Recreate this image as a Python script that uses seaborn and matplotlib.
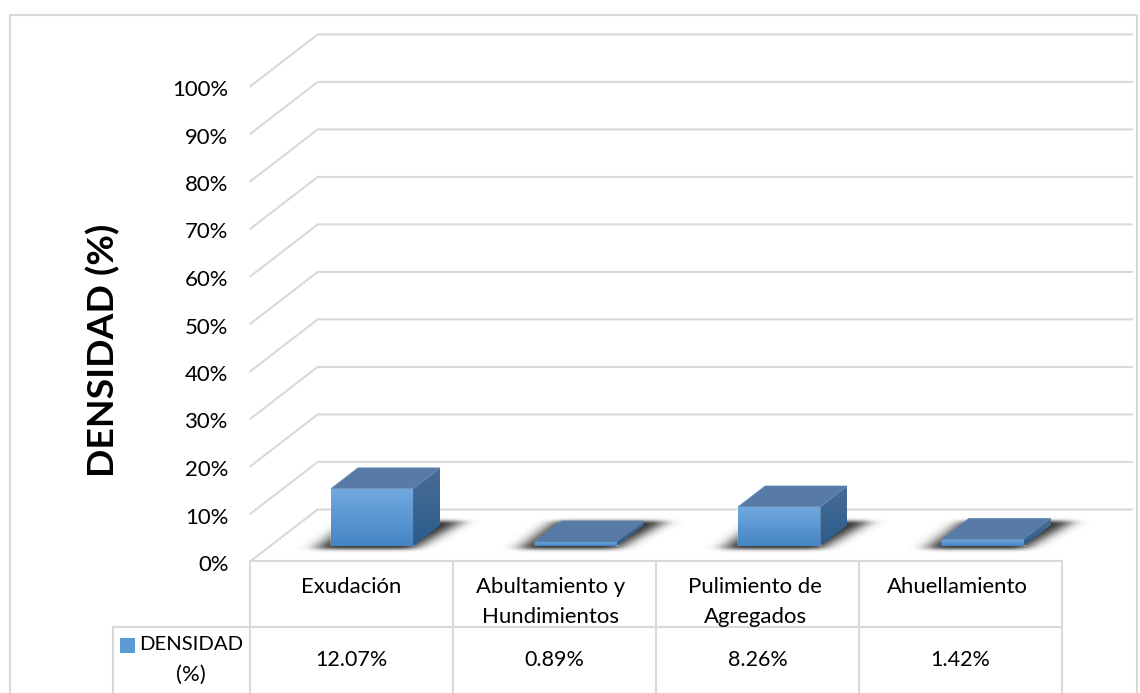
import numpy as np
import pandas as pd
import matplotlib
matplotlib.use("Agg")
import matplotlib.pyplot as plt
from matplotlib.patches import Polygon, Rectangle
from matplotlib.transforms import ScaledTranslation
import seaborn as sns

categories = ["Exudación", "Abultamiento y\nHundimientos", "Pulimiento de\nAgregados", "Ahuellamiento"]
densidad = [12.07, 0.89, 8.26, 1.42]
y_ticks = list(range(0, 101, 10))
series_name = "DENSIDAD (%)"

W, H = 1140, 693
GRID = "#d9d9d9"
TEXT = "#000000"
LABEL_PT = 15.9

sns.set_theme(style="white")
plt.rcParams["font.family"] = ["Lato", "DejaVu Sans"]

fig = plt.figure(figsize=(W / 100, H / 100), dpi=100, facecolor="white")

# Pixel-space layer for the chart frame, the data table and the floor shadows
chrome = fig.add_axes([0, 0, 1, 1], zorder=0)
chrome.set_xlim(0, W)
chrome.set_ylim(H, 0)
chrome.axis("off")

# The bars live on a plane set back from the front of the oblique floor
CAT_PX = 203.6
VAL_PX = 4.75
LEFT_PX = 270.2
BASE_PX = 546.0
ax = fig.add_axes([LEFT_PX / W, 1 - BASE_PX / H, 4 * CAT_PX / W, 100 * VAL_PX / H], zorder=1)
ax.patch.set_alpha(0)

data = pd.DataFrame({"categoria": categories, "densidad": densidad})
sns.barplot(data=data, x="categoria", y="densidad", width=0.403, color="#5b9bd5", saturation=1, ax=ax)
ax.set_xlim(-0.5, 3.5)
ax.set_ylim(0, 100)
ax.set_xlabel("")
ax.set_ylabel("")
sns.despine(ax=ax, left=True, bottom=True)


def depth(x, y, d):
    """Shift a data point by d pixels along the oblique depth direction."""
    return x + d / CAT_PX, y + d * 0.77 / VAL_PX


FRONT, BACK = -20.0, 47.5
x_lo, x_hi = ax.get_xlim()

# Walls: each gridline runs along the side wall and then across the back wall
for v in y_ticks:
    pts = [depth(x_lo, v, FRONT), depth(x_lo, v, BACK), depth(x_hi, v, BACK)]
    ax.plot(*zip(*pts), color=GRID, lw=1.5, clip_on=False, zorder=0.5, solid_joinstyle="miter")


def gradient_fill(top_rgb, bottom_rgb, outline, z):
    """Fill a polygon with a vertical colour gradient."""
    poly = Polygon(outline, closed=True, fc="none", ec="none", clip_on=False, zorder=z)
    ax.add_patch(poly)
    xs, ys = zip(*outline)
    ramp = np.linspace(0, 1, 64)[:, None, None]
    rgb = np.array(matplotlib.colors.to_rgb(top_rgb)) * (1 - ramp) + np.array(matplotlib.colors.to_rgb(bottom_rgb)) * ramp
    im = ax.imshow(rgb, extent=(min(xs), max(xs), min(ys), max(ys)), aspect="auto", origin="upper",
                   zorder=z, clip_on=True, interpolation="bilinear")
    im.set_clip_path(poly)


BAR_DEPTH = 27.0
for bar in ax.patches[:len(densidad)]:
    x0, x1 = bar.get_x(), bar.get_x() + bar.get_width()
    v = bar.get_height()
    gradient_fill("#72aae0", "#4585c3", [(x0, 0), (x1, 0), (x1, v), (x0, v)], 3)
    gradient_fill("#4a6d94", "#2a5c8e",
                  [(x1, 0), depth(x1, 0, BAR_DEPTH), depth(x1, v, BAR_DEPTH), (x1, v)], 3)
    ax.add_patch(Polygon([(x0, v), (x1, v), depth(x1, v, BAR_DEPTH), depth(x0, v, BAR_DEPTH)],
                         closed=True, fc="#577ba6", ec="#6288b4", lw=0.5, clip_on=False, zorder=3))
ax.set_xlim(x_lo, x_hi)
ax.set_ylim(0, 100)

# Value axis labels sit on the front edge of the side wall
ax.set_yticks(y_ticks)
ax.set_yticklabels([f"{v}%" for v in y_ticks], fontsize=LABEL_PT, color=TEXT)
ax.tick_params(axis="y", length=0, pad=30)
shift_front = ScaledTranslation(0, -17 / 100, fig.dpi_scale_trans)
for lab in ax.get_yticklabels():
    lab.set_transform(lab.get_transform() + shift_front)

# Category labels occupy the header row of the data table
ax.tick_params(axis="x", length=0, pad=22)
cat_shift_px = [-20.5, -25.5, -24.0, -25.5]
for lab, dx in zip(ax.get_xticklabels(), cat_shift_px):
    lab.set_fontsize(LABEL_PT)
    lab.set_color(TEXT)
    lab.set_multialignment("center")
    lab.set_linespacing(1.65)
    lab.set_transform(lab.get_transform() + ScaledTranslation(dx / 100, 0, fig.dpi_scale_trans))

chrome.text(103, 350, series_name, rotation=90, ha="center", va="center",
            fontsize=26.9, fontweight="bold", color="#000000")


def smooth(a, sigma, axis):
    """Gaussian smoothing along one array axis."""
    r = int(3 * sigma)
    k = np.exp(-0.5 * (np.arange(-r, r + 1) / sigma) ** 2)
    k /= k.sum()
    return np.apply_along_axis(lambda m: np.convolve(m, k, mode="same"), axis, a)


# Soft shadows on the floor, following each bar's footprint
gx, gy = np.meshgrid(np.arange(240, W), np.arange(505, 560))
alpha = np.zeros(gx.shape, dtype=float)
for i, v in enumerate(densidad):
    centre = LEFT_PX + (i + 0.5) * CAT_PX
    L, R = centre - 41, centre + 41
    t = (548.5 - gy) / 27.5
    inside = (t >= 0) & (t <= 1) & (gx >= L - 16 + 36 * t) & (gx <= R + 48 * t)
    alpha = np.maximum(alpha, inside.astype(float))
alpha = smooth(smooth(alpha, 9.0, 1), 1.8, 0)
shadow = np.zeros(gx.shape + (4,))
shadow[..., :3] = 0.18
shadow[..., 3] = np.clip(alpha, 0, 1)
chrome.imshow(shadow, extent=(240, W, 560, 505), aspect="auto", zorder=1, interpolation="bilinear")
chrome.set_xlim(0, W)
chrome.set_ylim(H, 0)

# Outer chart frame, cut off by the lower edge of the image
chrome.plot([9.5, 9.5, 1136.5, 1136.5], [H, 14.5, 14.5, H], color=GRID, lw=1.5, zorder=0.5)

# Data table grid
col_x = [250 + 203 * k for k in range(5)]
for x in col_x:
    chrome.plot([x, x], [561, H], color=GRID, lw=1.5, zorder=0.5)
chrome.plot([113, 113], [627, H], color=GRID, lw=1.5, zorder=0.5)
chrome.plot([113, col_x[-1]], [627, 627], color=GRID, lw=1.5, zorder=0.5)
chrome.plot([col_x[0], col_x[-1]], [561, 561], color=GRID, lw=1.5, zorder=0.5)

for k, v in enumerate(densidad):
    chrome.text((col_x[k] + col_x[k + 1]) / 2, 660, f"{v:.2f}%", ha="center", va="center",
                fontsize=15.5, color=TEXT)

# Legend key and series name in the first column of the table
chrome.add_patch(Rectangle((120, 638), 15, 15, fc="#5b9bd5", ec="none", zorder=2))
chrome.text(191, 645, "DENSIDAD", ha="center", va="center", fontsize=14.6, color=TEXT)
chrome.text(191, 675, "(%)", ha="center", va="center", fontsize=LABEL_PT, color=TEXT)

fig.savefig("out.png", dpi=100, facecolor="white")
